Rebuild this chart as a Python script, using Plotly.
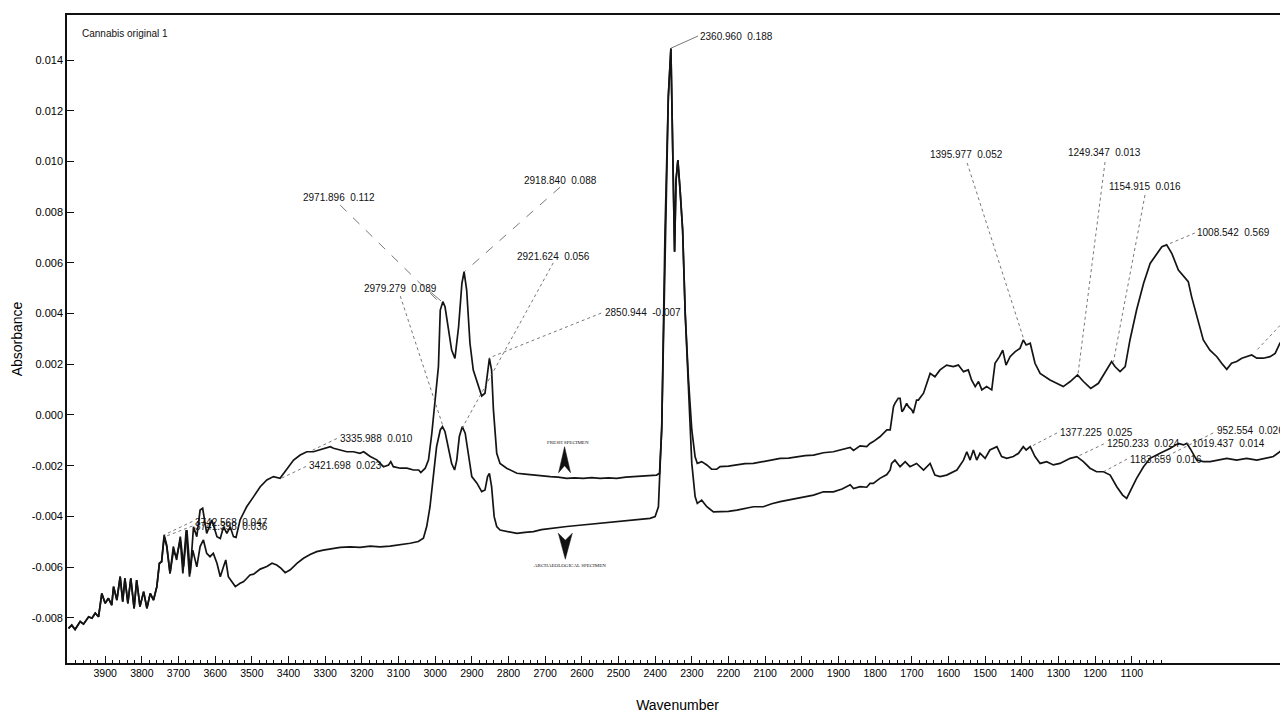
import plotly.graph_objects as go

# spectra (wavenumber, absorbance)
fresh_wn = [4000, 3991, 3982, 3968, 3959, 3945, 3936, 3927, 3918, 3909, 3900, 3891, 3882, 3877, 3868,
            3859, 3852, 3846, 3838, 3830, 3821, 3814, 3805, 3795, 3786, 3777, 3768, 3759, 3752, 3746,
            3739, 3732, 3723, 3714, 3705, 3695, 3686, 3677, 3668, 3659, 3650, 3641, 3634, 3623, 3609,
            3595, 3586, 3577, 3568, 3559, 3550, 3543, 3532, 3514, 3495, 3477, 3459, 3441, 3423, 3405,
            3386, 3368, 3350, 3332, 3314, 3295, 3286, 3277, 3259, 3241, 3223, 3205, 3195, 3177, 3159,
            3141, 3127, 3121, 3114, 3095, 3077, 3059, 3045, 3039, 3027, 3018, 3009, 3000, 2991, 2986,
            2979, 2973, 2964, 2955, 2946, 2936, 2927, 2921, 2914, 2905, 2896, 2882, 2873, 2864, 2857,
            2852, 2846, 2841, 2832, 2823, 2805, 2790, 2777, 2755, 2732, 2710, 2686, 2665, 2641, 2620,
            2596, 2573, 2550, 2527, 2505, 2480, 2459, 2436, 2414, 2396, 2388, 2382, 2373, 2364, 2357,
            2353, 2347, 2343, 2338, 2332, 2325, 2318, 2309, 2300, 2291, 2285, 2273, 2259, 2246, 2232,
            2223, 2200, 2177, 2155, 2132, 2105, 2082, 2059, 2036, 2014, 1991, 1968, 1941, 1914, 1890,
            1868, 1859, 1841, 1823, 1814, 1805, 1787, 1768, 1759, 1750, 1746, 1737, 1732, 1727, 1723,
            1714, 1709, 1700, 1696, 1687, 1682, 1668, 1650, 1637, 1623, 1605, 1587, 1573, 1559, 1546,
            1537, 1527, 1518, 1509, 1496, 1482, 1473, 1461, 1452, 1443, 1432, 1418, 1405, 1396, 1388,
            1377, 1364, 1350, 1337, 1323, 1305, 1287, 1268, 1248, 1232, 1212, 1191, 1168, 1155, 1146,
            1132, 1118, 1105, 1087, 1068, 1050, 1032, 1018, 1005, 991, 973, 959, 946, 937, 923,
            905, 887, 868, 855, 841, 828, 814, 800, 787, 773, 759, 741, 723, 709, 696,
            682, 673]
fresh_abs = [-0.00842, -0.00829, -0.00846, -0.00815, -0.00825, -0.00796, -0.00802, -0.00782, -0.00796, -0.00704,
             -0.00743, -0.00723, -0.00750, -0.00677, -0.00730, -0.00638, -0.00736, -0.00644, -0.00743, -0.00644,
             -0.00763, -0.00651, -0.00756, -0.00697, -0.00763, -0.00704, -0.00730, -0.00677, -0.00585, -0.00579,
             -0.00473, -0.00513, -0.00625, -0.00519, -0.00572, -0.00480, -0.00598, -0.00454, -0.00625, -0.00441,
             -0.00480, -0.00375, -0.00368, -0.00467, -0.00414, -0.00480, -0.00487, -0.00441, -0.00467, -0.00441,
             -0.00480, -0.00483, -0.00414, -0.00362, -0.00322, -0.00283, -0.00256, -0.00243, -0.00250, -0.00217,
             -0.00178, -0.00158, -0.00145, -0.00145, -0.00138, -0.00128, -0.00125, -0.00131, -0.00138, -0.00145,
             -0.00145, -0.00151, -0.00145, -0.00164, -0.00177, -0.00204, -0.00197, -0.00184, -0.00204, -0.00210,
             -0.00210, -0.00217, -0.00217, -0.00227, -0.00210, -0.00177, -0.00072, 0.00059, 0.00191, 0.00414,
             0.00447, 0.00427, 0.00348, 0.00256, 0.00223, 0.00348, 0.00519, 0.00565, 0.00493, 0.00283,
             0.00177, 0.00112, 0.00075, 0.00086, 0.00164, 0.00223, 0.00177, 0.00020, -0.00151, -0.00191,
             -0.00210, -0.00222, -0.00230, -0.00233, -0.00237, -0.00240, -0.00243, -0.00245, -0.00250, -0.00248,
             -0.00250, -0.00247, -0.00250, -0.00248, -0.00250, -0.00245, -0.00243, -0.00242, -0.00240, -0.00237,
             -0.00230, -0.00059, 0.00730, 0.01256, 0.01446, 0.01124, 0.00644, 0.00927, 0.01006, 0.00888,
             0.00730, 0.00401, 0.00138, -0.00059, -0.00165, -0.00191, -0.00184, -0.00197, -0.00214, -0.00214,
             -0.00204, -0.00202, -0.00197, -0.00192, -0.00191, -0.00184, -0.00178, -0.00171, -0.00170, -0.00165,
             -0.00160, -0.00158, -0.00149, -0.00145, -0.00135, -0.00128, -0.00140, -0.00122, -0.00125, -0.00112,
             -0.00105, -0.00086, -0.00059, -0.00059, 0.00033, 0.00046, 0.00066, 0.00066, 0.00013, 0.00020,
             0.00046, 0.00033, 0.00020, 0.00007, 0.00059, 0.00059, 0.00086, 0.00164, 0.00151, 0.00178,
             0.00197, 0.00191, 0.00197, 0.00171, 0.00178, 0.00138, 0.00112, 0.00132, 0.00099, 0.00112,
             0.00099, 0.00204, 0.00230, 0.00256, 0.00197, 0.00230, 0.00250, 0.00263, 0.00296, 0.00276,
             0.00283, 0.00204, 0.00164, 0.00151, 0.00138, 0.00125, 0.00112, 0.00132, 0.00158, 0.00132,
             0.00105, 0.00125, 0.00178, 0.00211, 0.00191, 0.00171, 0.00191, 0.00296, 0.00414, 0.00519,
             0.00598, 0.00638, 0.00664, 0.00671, 0.00638, 0.00572, 0.00546, 0.00526, 0.00467, 0.00388,
             0.00296, 0.00256, 0.00230, 0.00204, 0.00180, 0.00204, 0.00211, 0.00224, 0.00230, 0.00237,
             0.00224, 0.00224, 0.00230, 0.00243, 0.00283, 0.00309, 0.00300]

arch_wn = [4000, 3991, 3982, 3968, 3959, 3945, 3936, 3927, 3918, 3909, 3900, 3891, 3882, 3877, 3868,
           3859, 3852, 3846, 3838, 3830, 3821, 3814, 3805, 3795, 3786, 3777, 3768, 3759, 3752, 3746,
           3739, 3732, 3723, 3714, 3705, 3695, 3688, 3679, 3670, 3661, 3650, 3641, 3632, 3623, 3614,
           3605, 3595, 3586, 3577, 3571, 3564, 3555, 3545, 3532, 3523, 3514, 3505, 3495, 3477, 3459,
           3445, 3432, 3420, 3409, 3395, 3377, 3359, 3341, 3323, 3305, 3286, 3259, 3232, 3205, 3177,
           3150, 3123, 3096, 3068, 3046, 3032, 3023, 3014, 3005, 2996, 2986, 2980, 2973, 2964, 2955,
           2947, 2941, 2934, 2926, 2918, 2909, 2900, 2886, 2873, 2864, 2857, 2852, 2846, 2839, 2832,
           2823, 2805, 2790, 2777, 2755, 2732, 2710, 2686, 2665, 2641, 2620, 2596, 2573, 2550, 2527,
           2505, 2480, 2459, 2436, 2414, 2400, 2391, 2382, 2375, 2364, 2357, 2353, 2347, 2343, 2338,
           2332, 2325, 2318, 2309, 2300, 2291, 2285, 2273, 2259, 2241, 2223, 2200, 2177, 2155, 2132,
           2105, 2082, 2059, 2036, 2014, 1991, 1968, 1941, 1914, 1890, 1868, 1859, 1841, 1823, 1814,
           1805, 1787, 1768, 1759, 1755, 1746, 1732, 1718, 1705, 1687, 1668, 1650, 1637, 1623, 1605,
           1577, 1559, 1550, 1541, 1532, 1523, 1514, 1500, 1487, 1468, 1455, 1441, 1423, 1409, 1396,
           1388, 1377, 1364, 1350, 1332, 1314, 1296, 1268, 1250, 1232, 1214, 1196, 1177, 1159, 1141,
           1125, 1114, 1100, 1087, 1068, 1050, 1023, 996, 973, 959, 950, 941, 923, 905, 886,
           868, 841, 814, 787, 759, 732, 714, 696, 682, 673]
arch_abs = [-0.00842, -0.00829, -0.00846, -0.00815, -0.00825, -0.00796, -0.00802, -0.00782, -0.00796, -0.00704,
            -0.00743, -0.00723, -0.00750, -0.00677, -0.00730, -0.00638, -0.00736, -0.00644, -0.00743, -0.00644,
            -0.00763, -0.00651, -0.00756, -0.00697, -0.00763, -0.00704, -0.00730, -0.00677, -0.00585, -0.00579,
            -0.00481, -0.00519, -0.00625, -0.00539, -0.00559, -0.00493, -0.00625, -0.00454, -0.00638, -0.00533,
            -0.00599, -0.00519, -0.00493, -0.00546, -0.00559, -0.00546, -0.00585, -0.00638, -0.00598, -0.00572,
            -0.00638, -0.00658, -0.00677, -0.00664, -0.00658, -0.00645, -0.00631, -0.00628, -0.00608, -0.00598,
            -0.00585, -0.00592, -0.00605, -0.00622, -0.00611, -0.00585, -0.00565, -0.00550, -0.00539, -0.00533,
            -0.00528, -0.00522, -0.00520, -0.00522, -0.00517, -0.00520, -0.00517, -0.00513, -0.00506, -0.00499,
            -0.00486, -0.00440, -0.00362, -0.00243, -0.00125, -0.00059, -0.00046, -0.00066, -0.00125, -0.00191,
            -0.00217, -0.00178, -0.00085, -0.00046, -0.00072, -0.00164, -0.00243, -0.00269, -0.00302, -0.00296,
            -0.00243, -0.00230, -0.00283, -0.00401, -0.00440, -0.00454, -0.00460, -0.00465, -0.00467, -0.00463,
            -0.00460, -0.00452, -0.00447, -0.00443, -0.00440, -0.00437, -0.00434, -0.00430, -0.00427, -0.00424,
            -0.00421, -0.00417, -0.00414, -0.00411, -0.00408, -0.00401, -0.00362, -0.00046, 0.00480, 0.01256,
            0.01446, 0.01124, 0.00644, 0.00927, 0.01006, 0.00888, 0.00730, 0.00401, 0.00072, -0.00191,
            -0.00322, -0.00349, -0.00336, -0.00362, -0.00382, -0.00382, -0.00380, -0.00375, -0.00370, -0.00362,
            -0.00362, -0.00350, -0.00342, -0.00335, -0.00329, -0.00322, -0.00316, -0.00303, -0.00303, -0.00292,
            -0.00275, -0.00290, -0.00283, -0.00285, -0.00270, -0.00270, -0.00250, -0.00235, -0.00217, -0.00191,
            -0.00178, -0.00204, -0.00184, -0.00204, -0.00191, -0.00217, -0.00191, -0.00237, -0.00243, -0.00237,
            -0.00217, -0.00178, -0.00145, -0.00178, -0.00138, -0.00178, -0.00151, -0.00171, -0.00138, -0.00125,
            -0.00164, -0.00171, -0.00164, -0.00151, -0.00125, -0.00138, -0.00125, -0.00164, -0.00191, -0.00184,
            -0.00197, -0.00191, -0.00171, -0.00164, -0.00184, -0.00210, -0.00224, -0.00224, -0.00237, -0.00283,
            -0.00316, -0.00329, -0.00290, -0.00250, -0.00204, -0.00171, -0.00151, -0.00132, -0.00112, -0.00118,
            -0.00112, -0.00132, -0.00178, -0.00184, -0.00184, -0.00178, -0.00171, -0.00178, -0.00171, -0.00178,
            -0.00171, -0.00164, -0.00145, -0.00118, -0.00125]

y_tickvals = [-0.008, -0.006, -0.004, -0.002, 0.0, 0.002, 0.004, 0.006, 0.008, 0.010, 0.012, 0.014]
y_ticktext = ['-0.008', '-0.006', '-0.004', '-0.002', '0.000', '0.002', '0.004', '0.006',
              '0.008', '0.010', '0.012', '0.014']
x_tickvals = list(range(3900, 1000, -100))
x_ticktext = [str(v) for v in x_tickvals]
x_minorvals = [v for v in range(3980, 1019, -20) if v % 100]

# peak labels: text, label position, leader start, leader end, leader style
peak_labels = [
    ('2971.896  0.112', 3365, 0.00860, 3259, 0.00828, 2995, 0.00454, 'dash'),
    ('2979.279  0.089', 3199, 0.00501, 3019, 0.00493, 2984, 0.00450, 'solid'),
    (None, None, None, 3095, 0.00469, 2978, -0.00047, 'dot'),
    ('2918.840  0.088', 2763, 0.00927, 2659, 0.00899, 2921, 0.00564, 'dash'),
    ('2921.624  0.056', 2782, 0.00627, 2678, 0.00600, 2926, -0.00051, 'dot'),
    ('2850.944  -0.007', 2542, 0.00406, 2547, 0.00402, 2853, 0.00225, 'dot'),
    ('2360.960  0.188', 2283, 0.01495, 2283, 0.01495, 2357, 0.01447, 'solid'),
    ('3335.988  0.010', 3265, -0.00091, 3268, -0.00093, 3336, -0.00140, 'dot'),
    ('3421.698  0.023', 3349, -0.00201, 3352, -0.00203, 3423, -0.00252, 'dot'),
    ('3742.568  0.047', 3660, -0.00426, 3662, -0.00420, 3739, -0.00473, 'dot'),
    ('3741.398  0.036', 3660, -0.00438, 3662, -0.00438, 3739, -0.00481, 'dot'),
    ('1395.977  0.052', 1656, 0.01026, 1549, 0.00994, 1394, 0.00296, 'dot'),
    ('1249.347  0.013', 1279, 0.01034, 1173, 0.00998, 1247, 0.00158, 'dot'),
    ('1154.915  0.016', 1167, 0.00903, 1064, 0.00868, 1150, 0.00210, 'dot'),
    ('1008.542  0.569', 928, 0.00718, 928, 0.00718, 1005, 0.00671, 'dot'),
    (None, None, None, 673, 0.00388, 759, 0.00256, 'dot'),
    ('1377.225  0.025', 1301, -0.00071, 1304, -0.00071, 1377, -0.00126, 'dot'),
    ('1250.233  0.024', 1173, -0.00114, 1176, -0.00114, 1250, -0.00165, 'dot'),
    ('1183.659  0.016', 1110, -0.00174, 1113, -0.00174, 1177, -0.00224, 'dot'),
    ('1019.437  0.014', 941, -0.00114, 944, -0.00114, 950, -0.00112, 'solid'),
    ('952.554  0.026', 873, -0.00063, 878, -0.00071, 1015, -0.00170, 'dot'),
]

fig = go.Figure()
fig.add_trace(go.Scatter(x=fresh_wn, y=fresh_abs, mode='lines', name='Fresh specimen',
                         line=dict(color='#141414', width=1.7)))
fig.add_trace(go.Scatter(x=arch_wn, y=arch_abs, mode='lines', name='Archaeological specimen',
                         line=dict(color='#141414', width=1.7)))

lbl_font = dict(family='Liberation Sans, Arial, sans-serif', size=10, color='#111')
for text, tx, ty, x0, y0, x1, y1, dash in peak_labels:
    fig.add_shape(type='line', xref='x', yref='y', x0=x0, y0=y0, x1=x1, y1=y1,
                  line=dict(color='#555', width=0.8, dash=dash))
    if text:
        fig.add_annotation(x=tx, y=ty, text=text, showarrow=False, xanchor='left',
                           yanchor='middle', font=lbl_font)

# specimen markers
fig.add_annotation(x=2637, y=-0.00107, text='FRESH SPECIMEN', showarrow=False,
                   font=dict(family='Liberation Serif, serif', size=5, color='#111'))
fig.add_annotation(x=2632, y=-0.00592, text='ARCHAEOLOGICAL SPECIMEN', showarrow=False,
                   font=dict(family='Liberation Serif, serif', size=5, color='#111'))
fig.add_shape(type='path', xref='x', yref='y', xsizemode='pixel', ysizemode='pixel',
              xanchor=2647, yanchor=-0.00125, path='M0,0 L-6,-26 L0,-19 L6,-26 Z',
              fillcolor='#111', line=dict(color='#111', width=0.5))
fig.add_shape(type='path', xref='x', yref='y', xsizemode='pixel', ysizemode='pixel',
              xanchor=2645, yanchor=-0.00569, path='M0,0 L-7,26 L0,19 L7,26 Z',
              fillcolor='#111', line=dict(color='#111', width=0.5))

fig.add_annotation(xref='paper', yref='paper', x=0.0106, y=0.972, text='Cannabis original 1',
                   showarrow=False, xanchor='left', yanchor='middle', font=lbl_font)

# page body adds an 8px offset, so the figure is sized to fill the rest of the window
fig.update_layout(
    width=1280, height=705,
    margin=dict(l=59, r=0, t=7, b=50),
    plot_bgcolor='white', paper_bgcolor='white',
    showlegend=False,
    font=dict(family='Liberation Sans, Arial, sans-serif', color='#000'),
    xaxis=dict(range=[4004, 674], showgrid=False, zeroline=False,
               showline=True, linecolor='#111', linewidth=1.6, mirror=True,
               ticks='inside', ticklen=7, tickwidth=1.2, tickcolor='#111',
               tickmode='array', tickvals=x_tickvals, ticktext=x_ticktext,
               tickfont=dict(size=10.5),
               minor=dict(tickmode='array', tickvals=x_minorvals, ticks='inside',
                          ticklen=3.5, tickwidth=1, tickcolor='#111'),
               title=dict(text='Wavenumber', font=dict(size=14), standoff=22)),
    yaxis=dict(range=[-0.009784, 0.01578], showgrid=False, zeroline=False,
               showline=True, linecolor='#111', linewidth=1.6,
               ticks='inside', ticklen=7, tickwidth=1.2, tickcolor='#111',
               tickmode='array', tickvals=y_tickvals, ticktext=y_ticktext,
               tickfont=dict(size=11),
               title=dict(text='Absorbance', font=dict(size=14), standoff=6)),
)

fig.write_html("out.html")
